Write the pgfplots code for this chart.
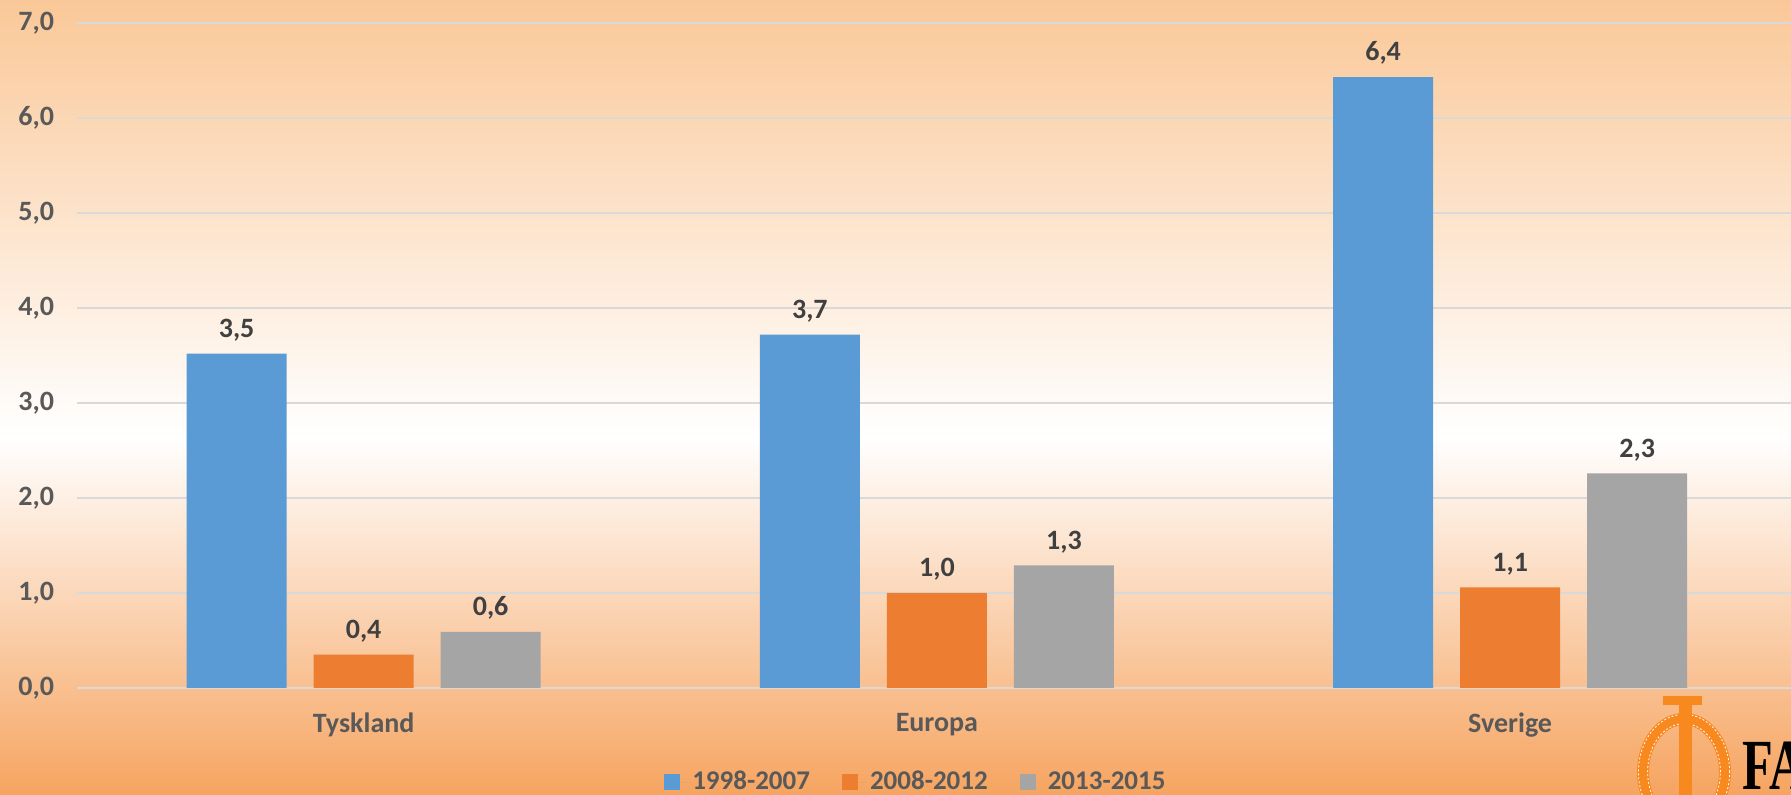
\documentclass[border=0pt]{standalone}
\usepackage{fontspec}
\setmainfont{Carlito}
\newfontfamily\logofont{Liberation Serif}
\usepackage{pgfplots}
\pgfplotsset{compat=1.18}

\definecolor{bblue}{HTML}{5B9BD5}
\definecolor{borange}{HTML}{ED7D31}
\definecolor{bgray}{HTML}{A5A5A5}
\definecolor{gridc}{HTML}{D9D9D9}
\definecolor{tickc}{HTML}{595959}
\definecolor{labc}{HTML}{404040}
\definecolor{bgtop}{HTML}{FAC898}
\definecolor{bgbot}{HTML}{F6A460}
\definecolor{logoc}{HTML}{F7891F}

% tikz maps the 25bp..75bp band of a shading onto the path
\pgfdeclareverticalshading{bgshade}{100bp}{color(0bp)=(bgbot); color(25bp)=(bgbot); color(47.5bp)=(white); color(75bp)=(bgtop); color(100bp)=(bgtop)}

\newcommand{\lbl}{\fontsize{14}{16}\selectfont\bfseries}

\begin{document}
\begin{tikzpicture}
\useasboundingbox (0,0) rectangle (895.5pt,397.5pt);
\shade[shading=bgshade] (0,0) rectangle (895.5pt,397.5pt);

\begin{axis}[
    at={(38.5pt,53.5pt)}, anchor=south west,
    scale only axis, width=857pt, height=332.5pt,
    xmin=-0.5, xmax=2.49, ymin=0, ymax=7,
    ybar=13.5pt, bar width=50pt,
    axis line style={draw=none}, major tick length=0pt,
    ytick={0,1,...,7},
    ymajorgrids, grid style={draw=gridc, line width=1pt},
    xtick={0,1,2}, xticklabels={Tyskland,Europa,Sverige},
    xticklabel style={font=\lbl, text=tickc, yshift=-9pt},
    yticklabel style={font=\lbl, text=tickc, xshift=-8pt,
        /pgf/number format/.cd, fixed, fixed zerofill, precision=1, use comma, assume math mode=true},
    point meta=explicit symbolic,
    nodes near coords,
    nodes near coords style={font=\lbl, text=labc, anchor=south, inner sep=2pt, yshift=4pt},
    legend style={at={(0.49,-0.1415)}, anchor=center, draw=none, fill=none,
        legend columns=3, font=\fontsize{13.5}{15}\selectfont\bfseries, text=tickc,
        /tikz/every even column/.append style={column sep=14pt}},
    legend image code/.code={\fill[#1] (0pt,-4pt) rectangle (8pt,4pt); \path (0pt,0pt) -- (12pt,0pt);},
    clip=false,
]
\addplot[fill=bblue, draw=none] coordinates {(0,3.52) [3,5] (1,3.72) [3,7] (2,6.43) [6,4]};
\addplot[fill=borange, draw=none] coordinates {(0,0.35) [0,4] (1,1.0) [1,0] (2,1.06) [1,1]};
\addplot[fill=bgray, draw=none] coordinates {(0,0.59) [0,6] (1,1.29) [1,3] (2,2.26) [2,3]};
\legend{1998-2007, 2008-2012, 2013-2015}
\end{axis}

% logo
\draw[logoc, line width=6pt] (842pt,11.5pt) ellipse (20.5pt and 26.5pt);
\draw[white, dash pattern=on 1pt off 1pt, line width=0.4pt] (842pt,11.5pt) ellipse (22.8pt and 28.8pt);
\draw[white, dash pattern=on 1pt off 1pt, line width=0.4pt] (842pt,11.5pt) ellipse (18.2pt and 24.2pt);
\fill[logoc] (839.5pt,-2pt) rectangle (846pt,47pt);
\fill[logoc] (831.5pt,45pt) rectangle (851pt,49.5pt);
\node[anchor=west, inner sep=0pt, xscale=0.7] at (871pt,14.5pt) {\logofont\fontsize{36}{40}\selectfont\bfseries FA};
\end{tikzpicture}
\end{document}
